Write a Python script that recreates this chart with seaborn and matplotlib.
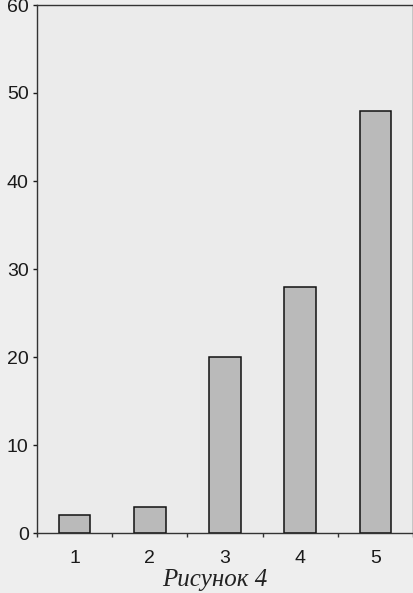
import matplotlib
matplotlib.use("Agg")
import matplotlib.pyplot as plt
import seaborn as sns
import pandas as pd
import numpy as np

# данные с рисунка
categories = ["1", "2", "3", "4", "5"]
values = [2, 3, 20, 28, 48]
y_ticks = [0, 10, 20, 30, 40, 50, 60]
caption = "Рисунок 4"

df = pd.DataFrame({"cat": categories, "val": values})

sns.set_style("ticks")
plt.rcParams['font.family'] = ['Liberation Sans', 'DejaVu Sans']

fig = plt.figure(figsize=(4.14, 5.93), dpi=100)
fig.patch.set_facecolor("#eeeeee")
ax = fig.add_axes([37/414, 60/593, 376/414, 528/593])
ax.set_facecolor("#ebebeb")

sns.barplot(data=df, x="cat", y="val", color="#bababa", edgecolor="#111111",
            linewidth=1.1, width=0.42, saturation=1, ax=ax)

ax.set_xlim(-0.5, 4.5)
ax.set_ylim(0, 60)
ax.set_yticks(y_ticks)
ax.set_xlabel("")
ax.set_ylabel("")

# деления по оси X между столбцами
ax.set_xticks(np.arange(-0.5, 5, 1), minor=True)
ax.tick_params(axis="x", which="major", length=0, pad=12, labelsize=14, colors="#1a1a1a")
ax.tick_params(axis="x", which="minor", length=3, width=1, color="#333333")
ax.tick_params(axis="y", length=3, width=1, labelsize=14, colors="#1a1a1a", pad=3)

for side in ["left", "bottom", "top", "right"]:
    ax.spines[side].set_visible(True)
    ax.spines[side].set_color("#333333")
    ax.spines[side].set_linewidth(1.0)

fig.text(215/414, 1 - 580/593, caption, ha="center", va="center",
         fontsize=18, style="italic", family=["Liberation Serif", "DejaVu Serif"],
         color="#222222")

fig.savefig("out.png", dpi=100, facecolor=fig.get_facecolor())
